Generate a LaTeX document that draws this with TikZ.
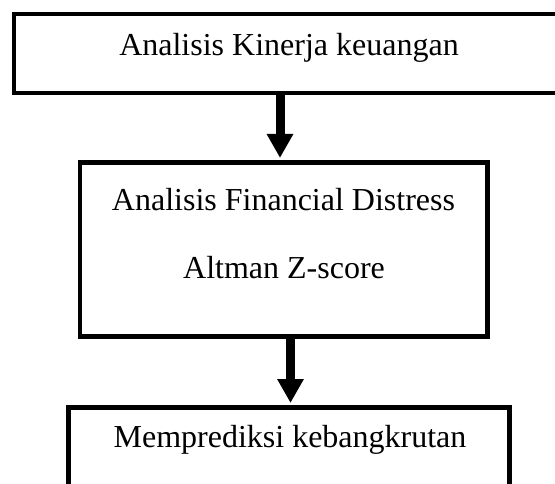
\documentclass[tikz,border=0pt]{standalone}
\usepackage{fontspec}
\setmainfont{Liberation Serif}
\usetikzlibrary{arrows.meta}
\begin{document}
\begin{tikzpicture}[x=1pt,y=-1pt,
  boxshape/.style={draw=black,line width=4.5pt,fill=white,inner sep=0pt},
  lbl/.style={anchor=base,inner sep=0pt,font=\fontsize{32}{38}\selectfont},
  conn/.style={line width=9pt,-{Triangle[width=25pt,length=24pt]}}]
\useasboundingbox (0,0) rectangle (555,484);
\node[boxshape,minimum width=552pt,minimum height=79pt] (b1) at (290,53.5) {};
\node[boxshape,minimum width=407.5pt,minimum height=174pt] (b2) at (283.75,249.5) {};
\node[boxshape,minimum width=441pt,minimum height=90pt] (b3) at (289,452.5) {};
\node[lbl] (t1) at (289,56) {Analisis Kinerja keuangan};
\node[lbl] (t2) at (283.5,211) {Analisis Financial Distress};
\node[lbl] (t3) at (284,279) {Altman Z-score};
\node[lbl] (t4) at (290,447) {Memprediksi kebangkrutan};
\coordinate (a1) at (280,0);
\coordinate (a2) at (290.5,0);
\draw[conn] (b1.south -| a1) -- ([yshift=2.25pt]b2.north -| a1);
\draw[conn] (b2.south -| a2) -- ([yshift=2.25pt]b3.north -| a2);
\end{tikzpicture}
\end{document}
